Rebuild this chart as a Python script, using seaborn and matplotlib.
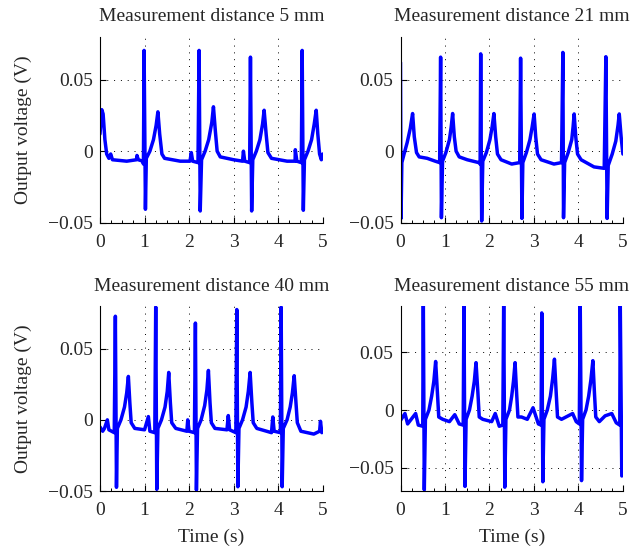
import numpy as np
import pandas as pd
import matplotlib
matplotlib.use("Agg")
import matplotlib.pyplot as plt
import seaborn as sns
from matplotlib.ticker import MultipleLocator, FuncFormatter

# key vertices: time (s), output voltage (V)
t_5mm = [0.00, 0.04, 0.07, 0.11, 0.15, 0.20, 0.24, 0.28, 0.60, 0.82, 0.83, 0.86, 0.96, 0.975,
         0.99, 1.02, 1.04, 1.12, 1.20, 1.26, 1.30, 1.34, 1.39, 1.45, 1.80, 2.02, 2.05, 2.08,
         2.20, 2.225, 2.25, 2.28, 2.36, 2.44, 2.51, 2.547, 2.59, 2.63, 2.70, 3.00, 3.20, 3.22,
         3.25, 3.36, 3.378, 3.405, 3.43, 3.51, 3.59, 3.65, 3.685, 3.73, 3.77, 3.85, 4.20, 4.38,
         4.385, 4.42, 4.52, 4.539, 4.565, 4.59, 4.67, 4.75, 4.81, 4.854, 4.89, 4.93, 4.97, 5.00]
v_5mm = [0.012, 0.029, 0.026, 0.008, -0.002, -0.005, -0.002, -0.006, -0.007, -0.006, -0.003, -0.006, -0.007, -0.009,
         0.0704, -0.0406, -0.005, 0.000, 0.008, 0.018, 0.0275, 0.012, -0.002, -0.005, -0.007, -0.007, -0.001, -0.007,
         -0.008, 0.0704, -0.0418, -0.006, 0.000, 0.008, 0.020, 0.031, 0.014, 0.000, -0.004, -0.006, -0.007, 0.000,
         -0.007, -0.008, 0.0657, -0.0418, -0.006, 0.000, 0.008, 0.019, 0.0286, 0.012, -0.001, -0.005, -0.007, -0.007,
         0.001, -0.007, -0.008, 0.0704, -0.0413, -0.006, 0.000, 0.008, 0.019, 0.0286, 0.012, -0.002, -0.006, -0.002]

t_21mm = [0.000, 0.012, 0.03, 0.08, 0.15, 0.22, 0.272, 0.31, 0.36, 0.42, 0.60, 0.78, 0.88, 0.902,
          0.92, 0.945, 1.02, 1.10, 1.14, 1.172, 1.21, 1.25, 1.32, 1.50, 1.76, 1.79, 1.803, 1.825,
          1.85, 1.93, 2.01, 2.06, 2.10, 2.14, 2.18, 2.26, 2.50, 2.68, 2.70, 2.73, 2.75, 2.83,
          2.91, 2.96, 3.004, 3.04, 3.08, 3.16, 3.45, 3.62, 3.65, 3.665, 3.69, 3.77, 3.85, 3.88,
          3.904, 3.94, 3.98, 4.06, 4.35, 4.58, 4.617, 4.645, 4.67, 4.76, 4.84, 4.89, 4.918, 4.96, 5.00]
v_21mm = [0.062, -0.047, -0.008, -0.002, 0.006, 0.016, 0.0263, 0.010, -0.001, -0.004, -0.005, -0.007, -0.008, 0.0657,
          -0.0465, -0.007, -0.001, 0.008, 0.017, 0.0263, 0.010, 0.000, -0.004, -0.006, -0.008, -0.009, 0.068, -0.0488,
          -0.007, -0.001, 0.008, 0.017, 0.0263, 0.010, -0.002, -0.006, -0.009, -0.008, 0.065, -0.047, -0.008, -0.001,
          0.008, 0.017, 0.026, 0.010, -0.002, -0.006, -0.009, -0.008, 0.069, -0.0465, -0.008, -0.001, 0.008, 0.017,
          0.026, 0.010, -0.002, -0.006, -0.011, -0.012, 0.066, -0.047, -0.010, -0.002, 0.007, 0.018, 0.026, 0.010, -0.002]

t_40mm = [0.00, 0.06, 0.10, 0.165, 0.20, 0.32, 0.345, 0.37, 0.39, 0.47, 0.55, 0.60, 0.637, 0.67,
          0.70, 0.78, 1.00, 1.086, 1.12, 1.23, 1.251, 1.275, 1.30, 1.38, 1.46, 1.51, 1.543, 1.58,
          1.61, 1.70, 1.95, 1.97, 2.00, 2.12, 2.142, 2.165, 2.19, 2.27, 2.35, 2.40, 2.434, 2.47,
          2.50, 2.58, 2.85, 2.88, 2.91, 3.05, 3.071, 3.095, 3.12, 3.20, 3.28, 3.33, 3.371, 3.41,
          3.44, 3.52, 3.85, 3.88, 3.91, 4.05, 4.067, 4.09, 4.115, 4.20, 4.27, 4.32, 4.36, 4.40,
          4.43, 4.51, 4.80, 4.93, 4.95, 4.98, 5.00]
v_40mm = [-0.005, -0.008, -0.006, 0.000, -0.007, -0.009, 0.0728, -0.0474, -0.006, 0.000, 0.009, 0.019, 0.0305, 0.012,
          -0.002, -0.006, -0.007, 0.0023, -0.008, -0.009, 0.0793, -0.0488, -0.006, 0.000, 0.009, 0.020, 0.0333, 0.012,
          -0.002, -0.006, -0.008, 0.000, -0.008, -0.009, 0.068, -0.0493, -0.006, 0.000, 0.010, 0.021, 0.0347, 0.012,
          -0.002, -0.006, -0.007, 0.003, -0.007, -0.009, 0.0775, -0.047, -0.006, 0.000, 0.009, 0.020, 0.0333, 0.012,
          -0.002, -0.006, -0.009, 0.002, -0.008, -0.009, 0.0793, -0.047, -0.006, 0.000, 0.009, 0.019, 0.031, 0.012,
          -0.002, -0.008, -0.010, -0.008, -0.001, -0.009, -0.008]

t_55mm = [0.00, 0.10, 0.16, 0.34, 0.40, 0.50, 0.513, 0.535, 0.56, 0.64, 0.70, 0.75, 0.79, 0.83,
          0.86, 0.95, 1.10, 1.22, 1.32, 1.41, 1.426, 1.45, 1.475, 1.55, 1.61, 1.66, 1.698, 1.74,
          1.77, 1.85, 2.05, 2.13, 2.22, 2.30, 2.32, 2.345, 2.37, 2.45, 2.50, 2.54, 2.576, 2.61,
          2.64, 2.72, 2.85, 2.98, 3.10, 3.16, 3.176, 3.20, 3.225, 3.30, 3.37, 3.42, 3.461, 3.50,
          3.53, 3.62, 3.87, 3.95, 4.02, 4.04, 4.07, 4.095, 4.17, 4.23, 4.28, 4.325, 4.36, 4.39,
          4.47, 4.60, 4.75, 4.85, 4.93, 4.94, 4.975]
v_55mm = [-0.009, -0.003, -0.012, -0.003, -0.013, -0.014, 0.095, -0.069, -0.008, 0.000, 0.012, 0.025, 0.042, 0.015,
          -0.006, -0.008, -0.010, -0.004, -0.012, -0.013, 0.095, -0.066, -0.008, 0.000, 0.012, 0.025, 0.041, 0.015,
          -0.006, -0.008, -0.010, -0.003, -0.014, -0.013, 0.095, -0.0667, -0.008, 0.000, 0.012, 0.025, 0.041, 0.015,
          -0.006, -0.006, -0.008, 0.002, -0.012, -0.013, 0.084, -0.062, -0.008, 0.000, 0.012, 0.027, 0.044, 0.015,
          -0.006, -0.008, -0.003, -0.010, -0.012, 0.095, -0.061, -0.008, 0.000, 0.012, 0.026, 0.0427, 0.015, -0.006,
          -0.010, -0.005, -0.003, -0.011, -0.013, 0.095, -0.057]

titles = ["Measurement distance 5 mm", "Measurement distance 21 mm",
          "Measurement distance 40 mm", "Measurement distance 55 mm"]
traces = [(t_5mm, v_5mm), (t_21mm, v_21mm), (t_40mm, v_40mm), (t_55mm, v_55mm)]
ylims = [(-0.05, 0.08), (-0.05, 0.08), (-0.05, 0.08), (-0.07, 0.09)]

sns.set_style("white")
plt.rcParams["font.family"] = ["Liberation Serif", "DejaVu Serif"]
fs = 14

fig = plt.figure(figsize=(6.41, 5.51), dpi=100)
W, H = 641, 551
boxes = [(100, 36.7, 322.7, 222.7), (400.5, 36.7, 622.9, 222.7),
         (100, 306, 322.7, 491), (400.5, 306, 622.9, 491)]


def fmt(v, pos):
    s = f"{v:g}"
    return s.replace("-", "\u2212")


for i, (x0, y0, x1, y1) in enumerate(boxes):
    ax = fig.add_axes([x0 / W, 1 - y1 / H, (x1 - x0) / W, (y1 - y0) / H])
    t, v = traces[i]
    df = pd.DataFrame({"t": t, "v": v})
    sns.lineplot(data=df, x="t", y="v", ax=ax, color="#0000ff", linewidth=2.5,
                 sort=False, estimator=None)
    ax.set_xlim(0, 5)
    ax.set_ylim(*ylims[i])
    ax.set_xticks([0, 1, 2, 3, 4, 5])
    ax.set_yticks([-0.05, 0, 0.05])
    ax.xaxis.set_minor_locator(MultipleLocator(0.25))
    ax.yaxis.set_major_formatter(FuncFormatter(fmt))
    ax.xaxis.set_major_formatter(FuncFormatter(fmt))
    ax.tick_params(which="both", direction="in", color="black", labelsize=fs,
                   bottom=True, left=True, top=False, right=False)
    ax.tick_params(axis="x", which="major", pad=8)
    ax.tick_params(axis="y", which="major", pad=5)
    ax.tick_params(which="major", length=4, width=0.8)
    ax.tick_params(which="minor", length=2.5, width=0.7)
    ax.grid(True, which="major", color="black", linestyle=(0, (1, 6)), linewidth=0.7)
    for side in ["top", "right"]:
        ax.spines[side].set_visible(False)
    for side in ["left", "bottom"]:
        ax.spines[side].set_color("black")
        ax.spines[side].set_linewidth(0.8)
    ax.set_title(titles[i], fontsize=fs, pad=11)
    ax.set_xlabel("Time (s)" if i >= 2 else "", fontsize=fs, labelpad=7)
    ax.set_ylabel("Output voltage (V)" if i % 2 == 0 else "", fontsize=fs, labelpad=12)

fig.savefig("out.png", dpi=100)
